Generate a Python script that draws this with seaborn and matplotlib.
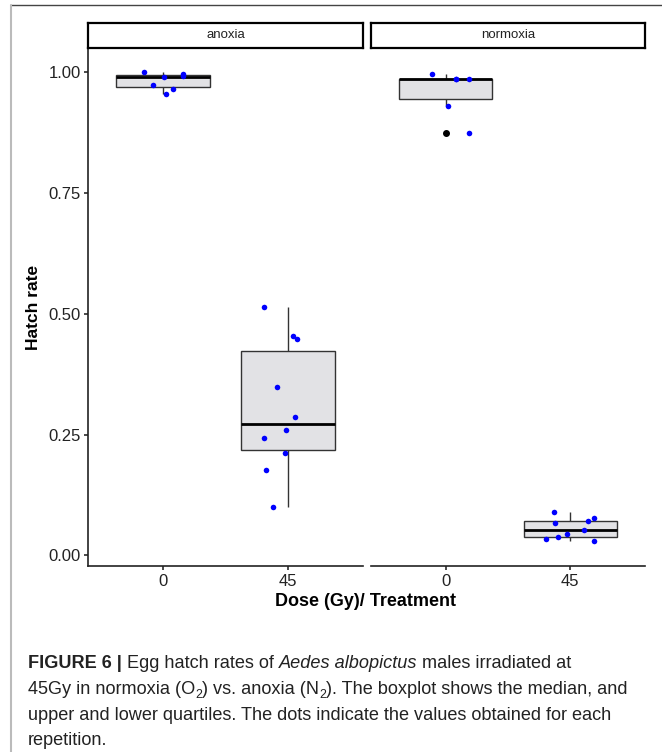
# 산소 조건별 흰줄숲모기 수컷 알 부화율 박스플롯 + 지터 점 (Figure 6 재현)

import numpy as np
import pandas as pd
import matplotlib
matplotlib.use("Agg")
import matplotlib.pyplot as plt
from matplotlib import font_manager
from matplotlib.lines import Line2D
import seaborn as sns

W, H = 662, 752

# 그림에서 읽은 값
TREATMENTS = ["anoxia", "normoxia"]
DOSES = ["0", "45"]
ANOXIA_0 = [0.955, 0.966, 0.974, 0.990, 0.993, 0.996, 1.000]
ANOXIA_45 = [0.100, 0.176, 0.211, 0.242, 0.259, 0.286, 0.348, 0.447, 0.453, 0.514]
NORMOXIA_0 = [0.874, 0.930, 0.986, 0.986, 0.986, 0.997]
NORMOXIA_45 = [0.029, 0.034, 0.038, 0.045, 0.052, 0.066, 0.072, 0.078, 0.089]
Y_TICKS = [0.0, 0.25, 0.5, 0.75, 1.0]

sns.set_theme(style="white")
plt.rcParams["font.family"] = ["Liberation Sans", "DejaVu Sans"]

names = {f.name for f in font_manager.fontManager.ttflist}
CAP_FONT = "Liberation Sans Narrow" if "Liberation Sans Narrow" in names else "Liberation Sans"


def load_data():
    groups = {("anoxia", "0"): ANOXIA_0, ("anoxia", "45"): ANOXIA_45,
              ("normoxia", "0"): NORMOXIA_0, ("normoxia", "45"): NORMOXIA_45}
    rows = [(t, d, v) for (t, d), vals in groups.items() for v in vals]
    return pd.DataFrame(rows, columns=["treatment", "dose", "hatch"])


# 픽셀 좌표 → figure 좌표 axes
def px_axes(fig, x0, y0, x1, y1):
    return fig.add_axes([x0 / W, 1 - y1 / H, (x1 - x0) / W, (y1 - y0) / H])


# 굵게/기울임/아래첨자 섞인 캡션 한 줄
def rich_line(fig, x_px, y_px, pieces, size):
    r = fig.canvas.get_renderer()
    x = x_px
    for txt, kind in pieces:
        kw = dict(fontsize=size, family=[CAP_FONT, "DejaVu Sans"], color="#222222")
        dy = 0
        if kind == "b":
            kw["weight"] = "bold"
        elif kind == "i":
            kw["style"] = "italic"
        elif kind == "sub":
            kw["fontsize"] = size * 0.68
            dy = 4
        t = fig.text(x / W, 1 - (y_px + dy) / H, txt, ha="left", va="baseline", **kw)
        x += t.get_window_extent(r).width


def make_plot(df):
    fig = plt.figure(figsize=(W / 100, H / 100), dpi=100)

    panels = [(88, 363), (371, 645)]
    for i, (tr, (x0, x1)) in enumerate(zip(TREATMENTS, panels)):
        ax = px_axes(fig, x0, 49, x1, 566)
        sub = df[df["treatment"] == tr]
        sns.boxplot(data=sub, x="dose", y="hatch", order=DOSES, ax=ax,
                    width=0.75, color="#E2E2E5", saturation=1, linecolor="#333333",
                    linewidth=1, showcaps=False,
                    medianprops=dict(color="black", linewidth=2),
                    flierprops=dict(marker="o", markerfacecolor="black",
                                    markeredgecolor="black", markersize=4))
        np.random.seed(3 + i)
        sns.stripplot(data=sub, x="dose", y="hatch", order=DOSES, ax=ax,
                      color="blue", size=4, linewidth=0, jitter=0.2, zorder=5)
        ax.set_xlim(-0.6, 1.6)
        ax.set_ylim(-0.022, 1.048)
        ax.set_xlabel("")
        ax.set_ylabel("")
        ax.set_facecolor("white")
        for s in ["top", "right"]:
            ax.spines[s].set_visible(False)
        ax.spines["bottom"].set_color("#222222")
        ax.spines["bottom"].set_linewidth(1.2)
        ax.tick_params(axis="x", length=3, color="#333333", labelsize=12,
                       labelcolor="#222222", pad=3, bottom=True)
        if i == 0:
            ax.spines["left"].set_color("#222222")
            ax.spines["left"].set_linewidth(1.2)
            ax.set_yticks(Y_TICKS)
            ax.set_yticklabels([f"{v:.2f}" for v in Y_TICKS])
            ax.tick_params(axis="y", length=3, color="#333333", labelsize=12,
                           labelcolor="#222222", pad=2, left=True)
        else:
            ax.spines["left"].set_visible(False)
            ax.set_yticks([])

        # 패널 제목 띠
        st = px_axes(fig, x0, 23, x1, 48)
        st.set_xticks([])
        st.set_yticks([])
        st.set_facecolor("white")
        for s in st.spines.values():
            s.set_color("black")
            s.set_linewidth(1.6)
        st.text(0.5, 0.5, tr, ha="center", va="center", fontsize=9.5, color="#222222",
                transform=st.transAxes)

    fig.text(33 / W, 1 - 307 / H, "Hatch rate", rotation=90, ha="center", va="center",
             fontsize=12.5, weight="bold", color="black")
    fig.text(366 / W, 1 - 602 / H, "Dose (Gy)/ Treatment", ha="center", va="center",
             fontsize=13, weight="bold", color="black")

    # 바깥 테두리
    fig.add_artist(Line2D([11 / W, 1], [1 - 5 / H, 1 - 5 / H], transform=fig.transFigure,
                          color="#444444", linewidth=1))
    fig.add_artist(Line2D([11 / W, 11 / W], [0, 1 - 5 / H], transform=fig.transFigure,
                          color="#BBBBBB", linewidth=1.5))

    # 캡션
    cs = 13.1
    rich_line(fig, 28, 668, [("FIGURE 6 | ", "b"), ("Egg hatch rates of ", "n"),
                             ("Aedes albopictus", "i"), (" males irradiated at", "n")], cs)
    rich_line(fig, 28, 694, [("45Gy in normoxia (O", "n"), ("2", "sub"),
                             (") vs. anoxia (N", "n"), ("2", "sub"),
                             ("). The boxplot shows the median, and", "n")], cs)
    rich_line(fig, 28, 720, [("upper and lower quartiles. The dots indicate the values "
                              "obtained for each", "n")], cs)
    rich_line(fig, 28, 745, [("repetition.", "n")], cs)

    fig.savefig("out.png", dpi=100, facecolor="white")
    plt.close(fig)


make_plot(load_data())
